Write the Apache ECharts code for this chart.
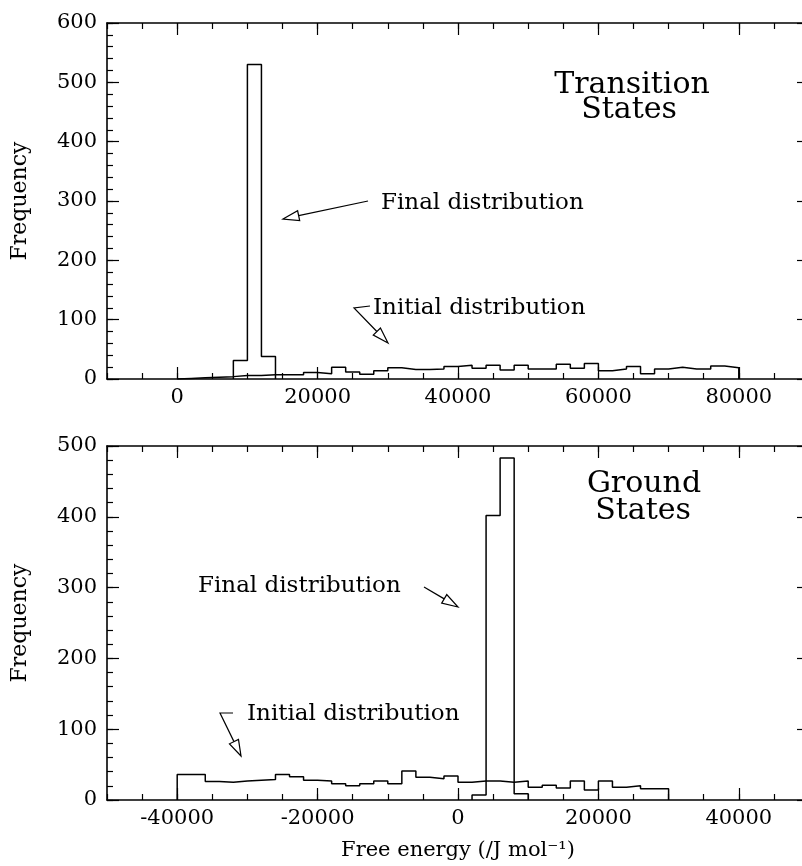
<!DOCTYPE html>
<html>
<head>
<meta charset="utf-8">
<script src="https://cdn.jsdelivr.net/npm/echarts@6/dist/echarts.min.js"></script>
<style>
  html, body { margin: 0; padding: 0; background: #fff; }
  #main { width: 802px; height: 866px; }
</style>
</head>
<body>
<div id="main"></div>
<script>
// histogram bin width (J/mol)
const binWidth = 2000;

// Transition states (top panel)
const tsInitialStart = 0;
const tsInitial = [1, 2, 3, 4, 6, 6, 7, 7, 7, 11, 9, 20, 12, 8, 14, 19, 16, 16, 17, 21,
                   23, 18, 23, 15, 23, 17, 17, 25, 18, 26, 14, 17, 21, 9, 17, 20, 17, 17, 22, 19];
const tsFinalStart = 8000;
const tsFinal = [31, 530, 38];

// Ground states (bottom panel)
const gsInitialStart = -40000;
const gsInitial = [36, 36, 26, 25, 27, 28, 29, 36, 33, 28, 27, 23, 20, 23, 27, 23, 41, 32, 30, 34,
                   25, 27, 27, 25, 27, 18, 21, 17, 27, 14, 27, 18, 20, 16, 16];
const gsFinalStart = 2000;
const gsFinal = [7, 402, 483, 9];

// tick labels
const tsXTicks = [0, 20000, 40000, 60000, 80000];
const tsYTicks = [0, 100, 200, 300, 400, 500, 600];
const gsXTicks = [-40000, -20000, 0, 20000, 40000];
const gsYTicks = [0, 100, 200, 300, 400, 500];

const FONT = '"DejaVu Serif", serif';

// [edge, value] points for a step line
function histPoints(start, values) {
  const pts = [[start, 0]];
  values.forEach((v, i) => pts.push([start + i * binWidth, v]));
  pts.push([start + values.length * binWidth, 0]);
  return pts;
}

function range(a, b, step) {
  const out = [];
  for (let v = a; v <= b + 1e-9; v += step) out.push(v);
  return out;
}

const frameLine = { show: true, onZero: false, lineStyle: { color: '#000', width: 1.6 } };
const noLine = { show: false, onZero: false };
const tickStyle = { color: '#000', width: 1.2 };
const plain = v => String(v);

function xAxes(grid, min, max, major, minorStep, name) {
  const minor = range(min, max, minorStep);
  const base = { gridIndex: grid, type: 'value', min: min, max: max, splitLine: { show: false } };
  return [
    Object.assign({}, base, {
      position: 'bottom',
      axisLine: frameLine,
      axisTick: { show: true, inside: true, length: 12, customValues: major, lineStyle: tickStyle },
      axisLabel: { customValues: major, formatter: plain, color: '#000', fontFamily: FONT, fontSize: 21, margin: 8 },
      name: name || '', nameLocation: 'middle', nameGap: 40,
      nameTextStyle: { color: '#000', fontFamily: FONT, fontSize: 21 }
    }),
    Object.assign({}, base, {
      position: 'bottom',
      axisLine: noLine,
      axisTick: { show: true, inside: true, length: 6, customValues: minor, lineStyle: tickStyle },
      axisLabel: { show: false }
    }),
    Object.assign({}, base, {
      position: 'top',
      axisLine: frameLine,
      axisTick: { show: true, inside: true, length: 12, customValues: major, lineStyle: tickStyle },
      axisLabel: { show: false }
    }),
    Object.assign({}, base, {
      position: 'top',
      axisLine: noLine,
      axisTick: { show: true, inside: true, length: 6, customValues: minor, lineStyle: tickStyle },
      axisLabel: { show: false }
    })
  ];
}

function yAxes(grid, max, major) {
  const minor = range(0, max, 20);
  const base = { gridIndex: grid, type: 'value', min: 0, max: max, splitLine: { show: false } };
  return [
    Object.assign({}, base, {
      position: 'left',
      axisLine: frameLine,
      axisTick: { show: true, inside: true, length: 12, customValues: major, lineStyle: tickStyle },
      axisLabel: { customValues: major, formatter: plain, color: '#000', fontFamily: FONT, fontSize: 21, margin: 10 },
      name: 'Frequency', nameLocation: 'middle', nameGap: 76,
      nameTextStyle: { color: '#000', fontFamily: FONT, fontSize: 22 }
    }),
    Object.assign({}, base, {
      position: 'left',
      axisLine: noLine,
      axisTick: { show: true, inside: true, length: 6, customValues: minor, lineStyle: tickStyle },
      axisLabel: { show: false }
    }),
    Object.assign({}, base, {
      position: 'right',
      axisLine: frameLine,
      axisTick: { show: true, inside: true, length: 12, customValues: major, lineStyle: tickStyle },
      axisLabel: { show: false }
    }),
    Object.assign({}, base, {
      position: 'right',
      axisLine: noLine,
      axisTick: { show: true, inside: true, length: 6, customValues: minor, lineStyle: tickStyle },
      axisLabel: { show: false }
    })
  ];
}

function stepSeries(xi, yi, pts) {
  return {
    type: 'line', step: 'end', xAxisIndex: xi, yAxisIndex: yi,
    data: pts, showSymbol: false, symbol: 'none',
    lineStyle: { color: '#000', width: 1.5 }, silent: true
  };
}

// open-headed arrow, last point is the tip
function arrow(points) {
  const L = 16, w = 5;
  const tip = points[points.length - 1];
  const prev = points[points.length - 2];
  let dx = tip[0] - prev[0], dy = tip[1] - prev[1];
  const len = Math.sqrt(dx * dx + dy * dy);
  dx /= len; dy /= len;
  const bx = tip[0] - dx * L, by = tip[1] - dy * L;
  const nx = -dy, ny = dx;
  const shaft = points.slice(0, -1).concat([[bx, by]]);
  return [
    { type: 'polyline', shape: { points: shaft }, style: { stroke: '#000', lineWidth: 1.2, fill: null } },
    { type: 'polygon', shape: { points: [tip, [bx + nx * w, by + ny * w], [bx - nx * w, by - ny * w]] },
      style: { stroke: '#000', lineWidth: 1.2, fill: '#fff' } }
  ];
}

function label(text, x, y, size, align) {
  return {
    type: 'text', x: x, y: y,
    style: { text: text, fill: '#000', font: size + 'px ' + FONT, textAlign: align || 'center', textVerticalAlign: 'middle' }
  };
}

const chart = echarts.init(document.getElementById('main'), null, { renderer: 'canvas' });

chart.setOption({
  animation: false,
  backgroundColor: '#fff',
  grid: [
    { left: 107, top: 23, width: 702, height: 356, outerBoundsMode: 'none', containLabel: false },
    { left: 107, top: 446, width: 702, height: 354, outerBoundsMode: 'none', containLabel: false }
  ],
  xAxis: xAxes(0, -10000, 90000, tsXTicks, 5000)
    .concat(xAxes(1, -50000, 50000, gsXTicks, 5000, 'Free energy (/J mol\u207B\u00B9)')),
  yAxis: yAxes(0, 600, tsYTicks).concat(yAxes(1, 500, gsYTicks)),
  series: [
    stepSeries(0, 0, histPoints(tsInitialStart, tsInitial)),
    stepSeries(0, 0, histPoints(tsFinalStart, tsFinal)),
    stepSeries(4, 4, histPoints(gsInitialStart, gsInitial)),
    stepSeries(4, 4, histPoints(gsFinalStart, gsFinal))
  ],
  graphic: [
    label('Transition', 632, 85, 30),
    label('States', 629, 110, 30),
    label('Final distribution', 381, 203, 23, 'left'),
    label('Initial distribution', 373, 308, 23, 'left'),
    label('Ground', 644, 484, 30),
    label('States', 643, 511, 30),
    label('Final distribution', 198, 586, 23, 'left'),
    label('Initial distribution', 247, 714, 23, 'left')
  ]
    .concat(arrow([[368, 201], [283, 219]]))
    .concat(arrow([[370, 306], [354, 308], [388, 343]]))
    .concat(arrow([[424, 587], [458, 607]]))
    .concat(arrow([[233, 713], [220, 713], [241, 756]]))
});
</script>
</body>
</html>
